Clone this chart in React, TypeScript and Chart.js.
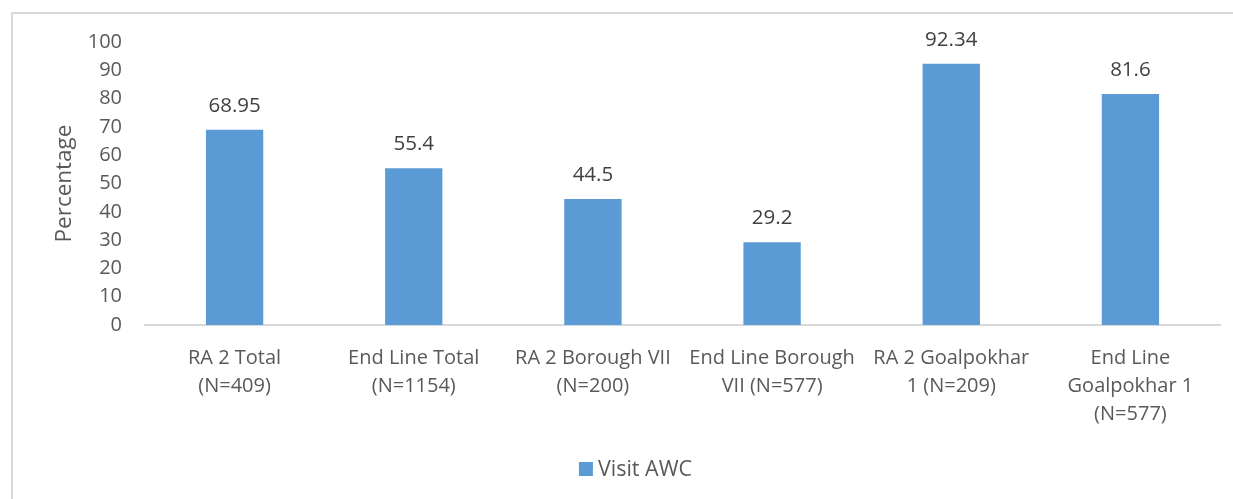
import React, { useEffect, useRef } from "react";
import { Chart, registerables } from "chart.js";

Chart.register(...registerables);

const categories: string[][] = [
  ["RA 2 Total", "(N=409)"],
  ["End Line Total", "(N=1154)"],
  ["RA 2 Borough VII", "(N=200)"],
  ["End Line Borough", "VII (N=577)"],
  ["RA 2 Goalpokhar", "1 (N=209)"],
  ["End Line", "Goalpokhar 1", "(N=577)"],
];
const visitAwc: number[] = [68.95, 55.4, 44.5, 29.2, 92.34, 81.6];
const seriesName = "Visit AWC";
const yTitle = "Percentage";

const FONT = "'Open Sans', sans-serif";
const BAR_COLOR = "#5B9BD5";
const TEXT_COLOR = "#595959";

// Value labels above each bar
const valueLabels = {
  id: "valueLabels",
  afterDatasetsDraw(chart: any) {
    const { ctx } = chart;
    const meta = chart.getDatasetMeta(0);
    ctx.save();
    ctx.font = `20.5px ${FONT}`;
    ctx.fillStyle = "#404040";
    ctx.textAlign = "center";
    ctx.textBaseline = "middle";
    meta.data.forEach((bar: any, i: number) => {
      ctx.fillText(String(visitAwc[i]), bar.x, bar.y - 24);
    });
    ctx.restore();
  },
};

// Compact legend below the axis: square swatch followed by the series name
const bottomLegend = {
  id: "bottomLegend",
  afterDraw(chart: any) {
    const { ctx } = chart;
    const ds = chart.data.datasets[0];
    ctx.save();
    ctx.font = `21.5px ${FONT}`;
    const textW = ctx.measureText(ds.label).width;
    const box = 14;
    const gap = 5;
    const total = box + gap + textW;
    const x0 = chart.width / 2 - total / 2 + 19;
    const cy = 469;
    ctx.fillStyle = ds.backgroundColor;
    ctx.fillRect(x0, cy - box / 2, box, box);
    ctx.fillStyle = TEXT_COLOR;
    ctx.textAlign = "left";
    ctx.textBaseline = "middle";
    ctx.fillText(ds.label, x0 + box + gap, cy + 1);
    ctx.restore();
  },
};

export default function App() {
  const canvasRef = useRef<HTMLCanvasElement>(null);

  useEffect(() => {
    if (!canvasRef.current) return;
    const chart = new Chart(canvasRef.current, {
      type: "bar",
      data: {
        labels: categories,
        datasets: [
          {
            label: seriesName,
            data: visitAwc,
            backgroundColor: BAR_COLOR,
            borderWidth: 0,
            barPercentage: 0.32,
            categoryPercentage: 1,
          },
        ],
      },
      options: {
        responsive: false,
        animation: false,
        layout: { padding: { top: 42, right: 13, bottom: 50, left: 0 } },
        plugins: {
          legend: { display: false },
          tooltip: { enabled: false },
        },
        scales: {
          x: {
            grid: { display: false, drawTicks: false },
            border: { display: true, color: "#d9d9d9", width: 2 },
            ticks: {
              font: { family: FONT, size: 20, lineHeight: "28px" },
              color: TEXT_COLOR,
              padding: 19,
              maxRotation: 0,
              autoSkip: false,
            },
            afterFit(scale: any) {
              scale.height = 124;
            },
          },
          y: {
            min: 0,
            max: 100,
            grid: { display: false, drawTicks: false },
            border: { display: false },
            ticks: {
              stepSize: 10,
              font: { family: FONT, size: 20 },
              color: TEXT_COLOR,
              padding: 23,
            },
            title: {
              display: true,
              text: yTitle,
              font: { family: FONT, size: 22.5 },
              color: TEXT_COLOR,
              padding: { top: 51, bottom: 0 },
            },
            afterFit(scale: any) {
              scale.width = 145;
            },
          },
        },
      },
      plugins: [valueLabels, bottomLegend],
    });
    return () => chart.destroy();
  }, []);

  return (
    <div
      style={{
        position: "absolute",
        left: 0,
        top: 0,
        width: 1233,
        height: 499,
        overflow: "hidden",
        background: "#fff",
      }}
    >
      <div
        style={{
          position: "absolute",
          left: 11,
          top: 12,
          width: 1300,
          height: 600,
          border: "2px solid #d9d9d9",
        }}
      />
      <canvas
        ref={canvasRef}
        width={1233}
        height={499}
        style={{ position: "absolute", left: 0, top: 0 }}
      />
    </div>
  );
}
